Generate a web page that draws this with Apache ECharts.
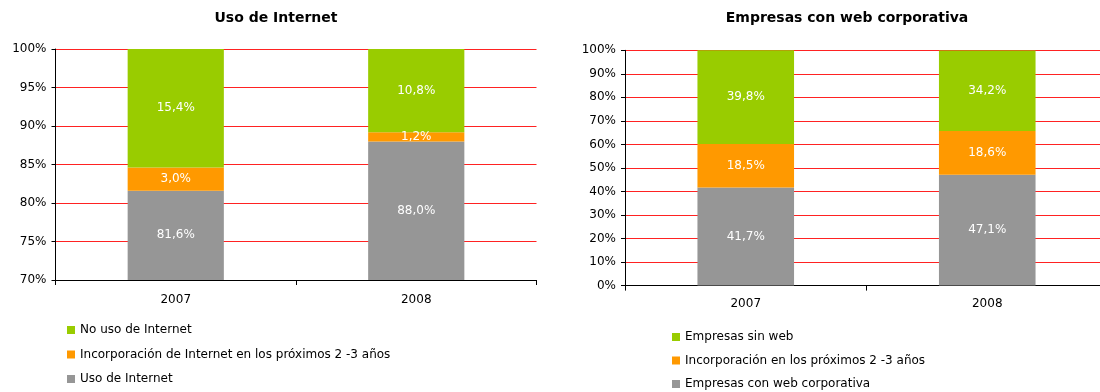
<!DOCTYPE html>
<html>
<head>
<meta charset="utf-8">
<script src="https://cdn.jsdelivr.net/npm/echarts@6/dist/echarts.min.js"></script>
<style>
  html, body { margin: 0; padding: 0; background: #fff; }
  #chart { width: 1100px; height: 392px; }
</style>
</head>
<body>
<div id="chart"></div>
<script>
// Years shown on both category axes
const years = ['2007', '2008'];

// Uso de Internet (%)
const usoInternet = [81.6, 88.0];
const incorporacionInternet = [3.0, 1.2];
const noUsoInternet = [15.4, 10.8];

// Empresas con web corporativa (%)
const conWeb = [41.7, 47.1];
const incorporacionWeb = [18.5, 18.6];
const sinWeb = [39.8, 34.2];

const GREEN = '#99cc00';
const ORANGE = '#ff9900';
const GREY = '#969696';
const FONT = 'DejaVu Sans';

const fmtPct = v => v.toFixed(1).replace('.', ',') + '%';

function barSeries(name, data, color, axisIndex, stack) {
  return {
    name: name,
    type: 'bar',
    stack: stack,
    xAxisIndex: axisIndex,
    yAxisIndex: axisIndex,
    data: data,
    barWidth: '40%',
    itemStyle: { color: color },
    label: {
      show: true,
      position: 'inside',
      color: '#ffffff',
      fontFamily: FONT,
      fontSize: 12,
      formatter: p => fmtPct(p.value)
    },
    emphasis: { disabled: true }
  };
}

function catAxis(gridIndex, labelMargin) {
  return {
    type: 'category',
    gridIndex: gridIndex,
    data: years,
    axisLine: { lineStyle: { color: '#000', width: 1 } },
    axisTick: { show: true, length: 5, lineStyle: { color: '#000' } },
    axisLabel: { color: '#000', fontFamily: FONT, fontSize: 12, margin: labelMargin }
  };
}

function valAxis(gridIndex, min, max, interval) {
  return {
    type: 'value',
    gridIndex: gridIndex,
    min: min,
    max: max,
    interval: interval,
    axisLine: { show: true, lineStyle: { color: '#000', width: 1 } },
    axisTick: { show: true, length: 4, lineStyle: { color: '#000' } },
    axisLabel: { color: '#000', fontFamily: FONT, fontSize: 12, margin: 9, formatter: '{value}%' },
    splitLine: { show: true, lineStyle: { color: '#ff2222', width: 1 } }
  };
}

const legendText = { color: '#000', fontFamily: FONT, fontSize: 12 };

const option = {
  animation: false,
  backgroundColor: '#ffffff',
  title: [
    {
      text: 'Uso de Internet',
      left: 271, top: 6, textAlign: 'center',
      textStyle: { fontFamily: FONT, fontWeight: 'bold', fontSize: 14, color: '#000' }
    },
    {
      text: 'Empresas con web corporativa',
      left: 842, top: 6, textAlign: 'center',
      textStyle: { fontFamily: FONT, fontWeight: 'bold', fontSize: 14, color: '#000' }
    }
  ],
  grid: [
    { left: 55.5, top: 49, width: 481, height: 231, outerBoundsMode: 'none' },
    { left: 625, top: 50.3, width: 483, height: 235.3, outerBoundsMode: 'none' }
  ],
  xAxis: [catAxis(0, 14), catAxis(1, 12)],
  yAxis: [valAxis(0, 70, 100, 5), valAxis(1, 0, 100, 10)],
  legend: [
    {
      orient: 'vertical', left: 62, top: 319, width: 450, height: 120,
      itemWidth: 8, itemHeight: 8, itemGap: 12.5, icon: 'rect',
      textStyle: legendText,
      data: ['No uso de Internet', 'Incorporación de Internet en los próximos 2 -3 años', 'Uso de Internet'],
      selectedMode: false
    },
    {
      orient: 'vertical', left: 667, top: 326, width: 400, height: 120,
      itemWidth: 8, itemHeight: 8, itemGap: 11.5, icon: 'rect',
      textStyle: legendText,
      data: ['Empresas sin web', 'Incorporación en los próximos 2 -3 años', 'Empresas con web corporativa'],
      selectedMode: false
    }
  ],
  series: [
    barSeries('Uso de Internet', usoInternet, GREY, 0, 'a'),
    barSeries('Incorporación de Internet en los próximos 2 -3 años', incorporacionInternet, ORANGE, 0, 'a'),
    barSeries('No uso de Internet', noUsoInternet, GREEN, 0, 'a'),
    barSeries('Empresas con web corporativa', conWeb, GREY, 1, 'b'),
    barSeries('Incorporación en los próximos 2 -3 años', incorporacionWeb, ORANGE, 1, 'b'),
    barSeries('Empresas sin web', sinWeb, GREEN, 1, 'b')
  ]
};

const chart = echarts.init(document.getElementById('chart'), null, { renderer: 'canvas' });
chart.setOption(option);
</script>
</body>
</html>
